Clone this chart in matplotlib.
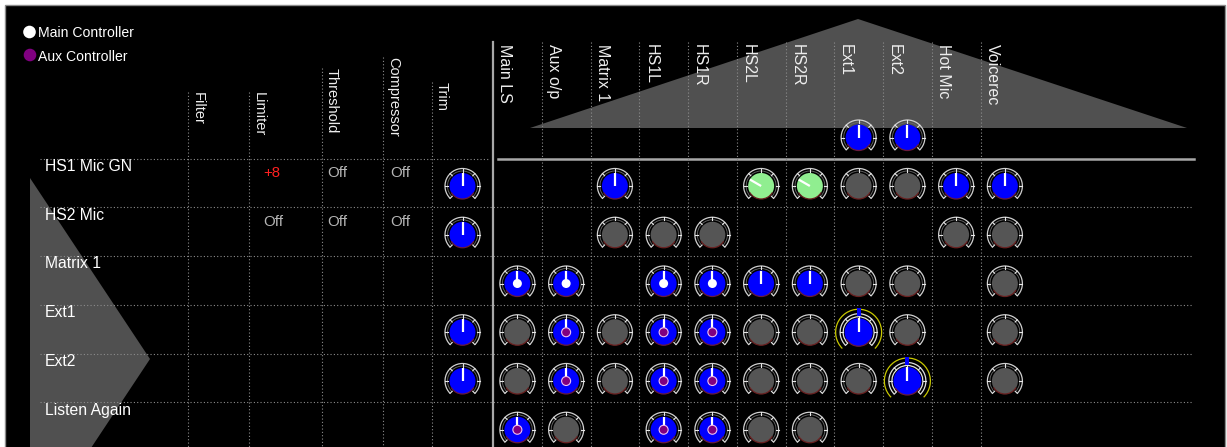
import numpy as np
import matplotlib.pyplot as plt
from matplotlib.patches import Circle, Arc, Polygon, Rectangle

plt.rcParams['font.family'] = ['Liberation Sans', 'DejaVu Sans']

# ---- data ----
row_labels = ["HS1 Mic GN", "HS2 Mic", "Matrix 1", "Ext1", "Ext2", "Listen Again"]
proc_columns = ["Filter", "Limiter", "Threshold", "Compressor", "Trim"]
out_columns = ["Main LS", "Aux o/p", "Matrix 1", "HS1L", "HS1R", "HS2L", "HS2R",
               "Ext1", "Ext2", "Hot Mic", "Voicerec"]

# Limiter / Threshold / Compressor readouts per row
limiter = ["+8", "Off", "", "", "", ""]
threshold = ["Off", "Off", "", "", "", ""]
compressor = ["Off", "Off", "", "", "", ""]

# knob codes: '' none, 'b' blue, 'g' gray, 'G' green,
# 'bm' blue + main controller, 'ba' blue + aux controller, 'bs' blue selected
trim = ["b", "b", "", "b", "b", ""]
matrix = [
    ["", "", "b", "", "", "G", "G", "g", "g", "b", "b"],
    ["", "", "g", "g", "g", "", "", "", "", "g", "g"],
    ["bm", "bm", "", "bm", "bm", "b", "b", "g", "g", "", "g"],
    ["g", "ba", "g", "ba", "ba", "g", "g", "bs", "g", "", "g"],
    ["g", "ba", "g", "ba", "ba", "g", "g", "g", "bs", "", "g"],
    ["ba", "g", "", "ba", "ba", "g", "g", "", "", "", ""],
]
header_knobs = ["", "", "", "", "", "", "", "b", "b", "", ""]
pointer_angle = {"b": 0, "bm": 0, "ba": 0, "bs": 0, "G": -60}

# ---- layout ----
row_top0, row_h = 158.5, 48.75
col_left0, col_w = 493.0, 48.75
proc_lines = [188, 249, 322, 383, 432]
proc_label_top = [92, 92, 68, 57, 82]
readout_x = [263, 327, 390]

fill = {"b": "#0000ff", "g": "#555555", "G": "#90ee90"}


def pdir(a):
    r = np.radians(a)
    return np.sin(r), -np.cos(r)


def knob(ax, x, y, kind):
    base = kind[0] if kind != "G" else "G"
    sel = kind == "bs"
    rc = 14 if sel else 13
    if sel:
        ax.add_patch(Arc((x, y), 46, 46, theta1=135, theta2=405, color="#c8c800", lw=0.9, zorder=4))
        for r in (15.5, 18.5):
            ax.add_patch(Arc((x, y), 2 * r, 2 * r, theta1=135, theta2=405, color="#e0e0e0", lw=0.9, zorder=4))
        r_in, r_out = 15.5, 18.5
    else:
        ax.add_patch(Arc((x, y), 35, 35, theta1=135, theta2=405, color="#d0d0d0", lw=0.9, zorder=4))
        ax.add_patch(Arc((x, y), 30, 30, theta1=135, theta2=405, color="#6a6a6a", lw=0.6, zorder=4))
        r_in, r_out = 14.5, 17.5
    for a in (-135, -90, -45, 0, 45, 90, 135):
        dx, dy = pdir(a)
        ax.plot([x + r_in * dx, x + r_out * dx], [y + r_in * dy, y + r_out * dy],
                color="#e8e8e8", lw=0.8, zorder=4)
    ax.add_patch(Circle((x, y), rc, fc=fill[base], ec="none", zorder=5))
    edge = "#6a1a3a" if base == "b" else "#6a2020"
    ax.add_patch(Arc((x, y), 2 * rc, 2 * rc, theta1=30, theta2=150, color=edge, lw=0.9, zorder=5))
    if sel:
        ax.add_patch(Rectangle((x - 2, y - 24), 4, 8, fc="#0000ff", ec="none", zorder=6))
    if kind in pointer_angle:
        dx, dy = pdir(pointer_angle[kind])
        ax.plot([x, x + rc * dx], [y, y + rc * dy], color="white", lw=1.6,
                solid_capstyle="butt", zorder=6)
    if kind == "bm":
        ax.add_patch(Circle((x, y), 4.5, fc="white", ec="none", zorder=7))
    elif kind == "ba":
        ax.add_patch(Circle((x, y), 4.5, fc="#800080", ec="#f0c0f0", lw=0.8, zorder=7))


fig = plt.figure(figsize=(12.27, 4.47), dpi=100, facecolor="white")
ax = fig.add_axes([0, 0, 1, 1])
ax.set_xlim(0, 1227)
ax.set_ylim(447, 0)
ax.axis("off")

ax.add_patch(Rectangle((5, 5), 1220, 450, fc="black", ec="#8c8c8c", lw=1, zorder=0))

# background triangles
ax.add_patch(Polygon([(530, 128), (858, 19), (1187, 128)], closed=True, fc="#505050", ec="none", zorder=1))
ax.add_patch(Polygon([(30, 178), (150, 359), (30, 540)], closed=True, fc="#505050", ec="none", zorder=1))

# legend
ax.add_patch(Circle((29.5, 32), 6.3, fc="white", ec="none", zorder=3))
ax.text(37.5, 33, "Main Controller", color="white", fontsize=10.1, va="center", ha="left", zorder=3)
ax.add_patch(Circle((30, 55), 6.3, fc="#800080", ec="none", zorder=3))
ax.text(37.5, 57, "Aux Controller", color="white", fontsize=10.1, va="center", ha="left", zorder=3)

dot = dict(color="#8c8c8c", lw=0.8, dashes=(1, 2), zorder=2)
n_rows = len(row_labels)
row_tops = [row_top0 + i * row_h for i in range(n_rows)]

# grid lines
for i, yt in enumerate(row_tops):
    if i == 0:
        ax.plot([40, 490], [yt, yt], **dot)
    else:
        ax.plot([40, 1192], [yt, yt], **dot)
ax.plot([498, 1194], [row_top0, row_top0], color="#a8a8a8", lw=1.8, zorder=2)

for xl, yt, lab in zip(proc_lines, proc_label_top, proc_columns):
    ax.plot([xl, xl], [yt, 447], **dot)
    ax.text(xl + 3, yt, lab, rotation=-90, ha="left", va="top", color="#eeeeee",
            fontsize=10.5, zorder=3)

for j, lab in enumerate(out_columns):
    xl = col_left0 + j * col_w
    if j == 0:
        ax.plot([xl, xl], [42, 447], color="#a8a8a8", lw=1.6, zorder=2)
    else:
        ax.plot([xl, xl], [42, 447], **dot)
    ax.text(xl + 4, 44, lab, rotation=-90, ha="left", va="top", color="#eeeeee",
            fontsize=11.5, zorder=3)
    if header_knobs[j]:
        knob(ax, xl + col_w / 2, 137.5, header_knobs[j])

# rows
for i, yt in enumerate(row_tops):
    ax.text(45, yt + 8, row_labels[i], color="white", fontsize=11.3, va="center", ha="left", zorder=3)
    for xr, val in zip(readout_x, (limiter[i], threshold[i], compressor[i])):
        if val:
            c = "#ff2020" if val.startswith("+") else "#b4b4b4"
            ax.text(xr, yt + 14.5, val, color=c, fontsize=10.8, va="center", ha="left", zorder=3)
    yc = yt + 27.5
    if trim[i]:
        knob(ax, (proc_lines[-1] + col_left0) / 2, yc, trim[i])
    for j, k in enumerate(matrix[i]):
        if k:
            knob(ax, col_left0 + j * col_w + col_w / 2, yc, k)

fig.savefig("out.png", dpi=100, facecolor="white")
